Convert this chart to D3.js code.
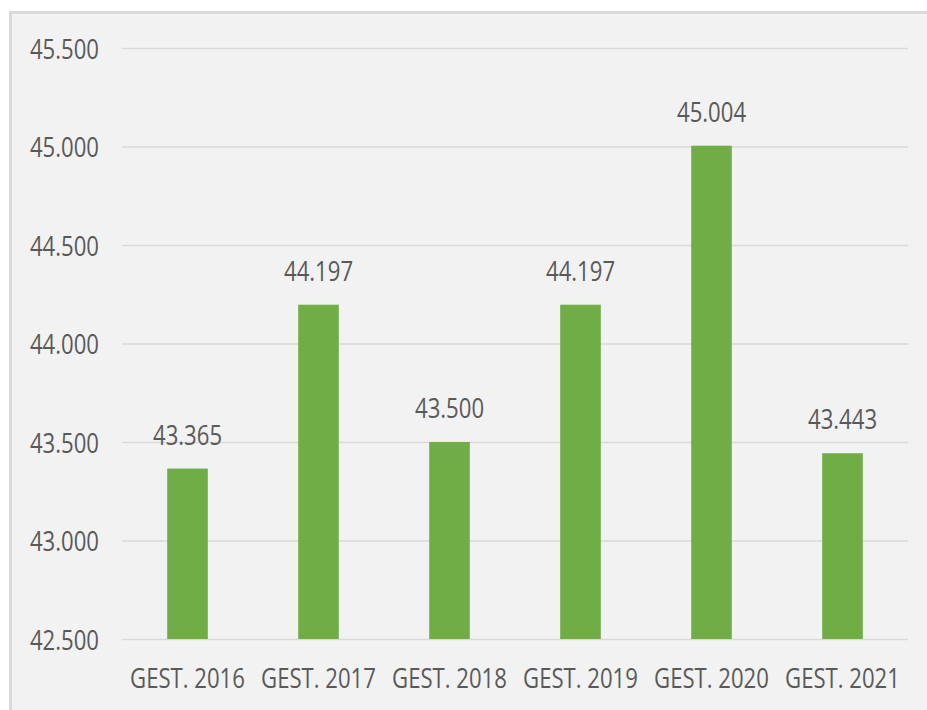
<!DOCTYPE html>
<html>
<head>
<meta charset="utf-8">
<script src="https://cdn.jsdelivr.net/npm/d3@7"></script>
<style>
  html, body { margin: 0; padding: 0; background: #ffffff; }
  svg { display: block; }
  text { font-family: "Open Sans", "Noto Sans", sans-serif; fill: #595959; }
</style>
</head>
<body>
<script>
const categories = ["GEST. 2016", "GEST. 2017", "GEST. 2018", "GEST. 2019", "GEST. 2020", "GEST. 2021"];
const values = [43365, 44197, 43500, 44197, 45004, 43443];
const yTicks = [42500, 43000, 43500, 44000, 44500, 45000, 45500];

const W = 927, H = 710;
const SX = 0.82;        // horizontal squeeze of the text
const FS = 27;

const locale = d3.formatLocale({ decimal: ",", thousands: ".", grouping: [3], currency: ["", "€"] });
const fmt = locale.format(",.0f");

const svg = d3.select("body").append("svg").attr("width", W).attr("height", H);

// chart area with border
svg.append("rect")
  .attr("x", 10.5).attr("y", 12.5)
  .attr("width", W + 20).attr("height", H + 20)
  .attr("fill", "#f2f2f2")
  .attr("stroke", "#d9d9d9").attr("stroke-width", 3);

const x = d3.scaleBand().domain(categories).range([122, 908]).paddingInner(0.69).paddingOuter(0.345);
const y = d3.scaleLinear().domain([42500, 45500]).range([639, 48]);

// y axis with gridlines
const yAxis = svg.append("g")
  .attr("transform", "translate(122,0)")
  .call(d3.axisLeft(y).tickValues(yTicks).tickFormat(fmt).tickSize(-(908 - 122)).tickPadding(0));
yAxis.select(".domain").remove();
yAxis.selectAll(".tick line").attr("stroke", "#d9d9d9").attr("stroke-width", 1.3);
yAxis.selectAll(".tick text")
  .attr("x", 0).attr("dy", null)
  .attr("y", 10)
  .attr("transform", `translate(-23,0) scale(${SX},1)`)
  .attr("text-anchor", "end")
  .style("font-size", FS + "px")
  .style("font-family", null)
  .attr("font-family", null)
  .attr("fill", "#595959");

// bars
svg.append("g").selectAll("rect")
  .data(values)
  .join("rect")
  .attr("x", (d, i) => x(categories[i]))
  .attr("y", d => y(d))
  .attr("width", x.bandwidth())
  .attr("height", d => y(42500) - y(d))
  .attr("fill", "#70ad47");

// value labels
svg.append("g").selectAll("text")
  .data(values)
  .join("text")
  .attr("transform", (d, i) => `translate(${x(categories[i]) + x.bandwidth() / 2},${y(d) - 24}) scale(${SX},1)`)
  .attr("text-anchor", "middle")
  .style("font-size", FS + "px")
  .text(d => fmt(d));

// x axis labels
const xAxis = svg.append("g")
  .attr("transform", "translate(0,639)")
  .call(d3.axisBottom(x).tickSize(0).tickPadding(0));
xAxis.select(".domain").remove();
xAxis.selectAll(".tick text")
  .attr("y", 0).attr("dy", null)
  .attr("transform", `translate(0,49) scale(${SX},1)`)
  .attr("text-anchor", "middle")
  .style("font-size", FS + "px")
  .attr("font-family", null)
  .attr("fill", "#595959");
</script>
</body>
</html>
